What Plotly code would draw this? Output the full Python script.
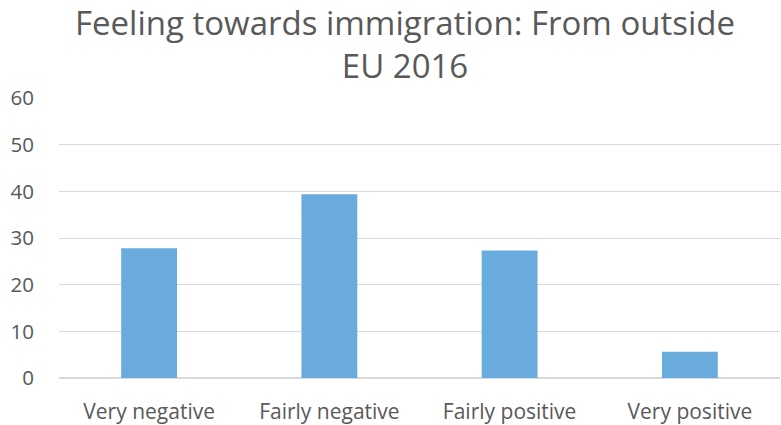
import plotly.graph_objects as go

categories = ["Very negative", "Fairly negative", "Fairly positive", "Very positive"]
values = [27.8, 39.4, 27.3, 5.6]
y_ticks = [0, 10, 20, 30, 40, 50, 60]
title_text = "Feeling towards immigration: From outside<br>EU 2016"

fig = go.Figure(go.Bar(x=categories, y=values, marker=dict(color="#6aabdd", line=dict(width=0)), width=0.31))

grey = "#595959"
fig.update_layout(
    width=781, height=425,
    margin=dict(l=59, r=1, t=98, b=47),
    paper_bgcolor="white", plot_bgcolor="white",
    font=dict(family="Open Sans", color=grey),
    showlegend=False,
    annotations=[
        dict(text=title_text, x=0.48, y=1.193, xref="paper", yref="paper",
             xanchor="center", yanchor="middle", showarrow=False,
             font=dict(family="Open Sans", size=33, color=grey)),
    ],
)
fig.update_yaxes(range=[0, 60], tickvals=y_ticks, showgrid=True, gridcolor="#d9d9d9", gridwidth=1,
                 zeroline=True, zerolinecolor="#d9d9d9", tickfont=dict(size=20.5, color=grey),
                 ticks="", ticklabelstandoff=24, showline=False, automargin=False)
fig.update_xaxes(showgrid=False, tickfont=dict(size=21, color=grey), ticks="", showline=False,
                 ticklabelstandoff=19, automargin=False)

fig.write_html("out.html", config={"displayModeBar": False},
               post_script="document.body.style.margin='0';document.body.style.overflow='hidden';")
